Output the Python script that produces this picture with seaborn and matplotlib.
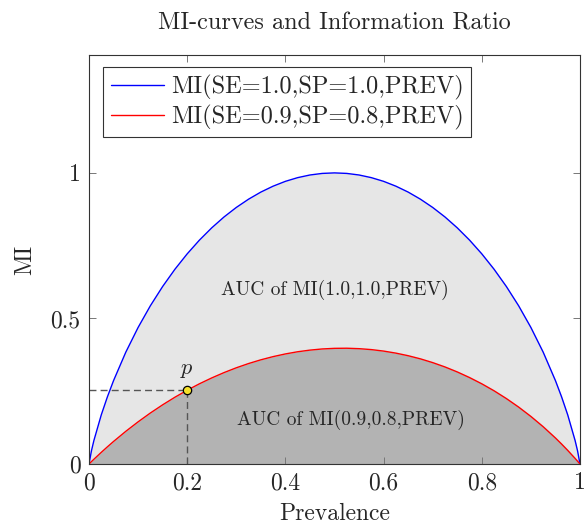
import numpy as np
import pandas as pd
import matplotlib.pyplot as plt
import seaborn as sns

# values
prevalence = [0, 0.005, 0.01, 0.025, 0.0375, 0.05, 0.075,
              0.1, 0.125, 0.15, 0.175, 0.2, 0.225, 0.25, 0.275, 0.3, 0.325, 0.35, 0.375,
              0.4, 0.425, 0.45, 0.475, 0.5, 0.525, 0.55, 0.575, 0.6, 0.625, 0.65, 0.675,
              0.7, 0.725, 0.75, 0.775, 0.8, 0.825, 0.85, 0.875, 0.9,
              0.925, 0.95, 0.9625, 0.975, 0.99, 0.995, 1]
mi_perfect = [0, 0.0454, 0.0808, 0.1687, 0.2307, 0.2864, 0.3843,
              0.4690, 0.5436, 0.6098, 0.6690, 0.7219, 0.7692, 0.8113, 0.8486, 0.8813, 0.9097, 0.9341, 0.9544,
              0.9710, 0.9837, 0.9928, 0.9982, 1.0, 0.9982, 0.9928, 0.9837, 0.9710, 0.9544, 0.9341, 0.9097,
              0.8813, 0.8486, 0.8113, 0.7692, 0.7219, 0.6690, 0.6098, 0.5436, 0.4690,
              0.3843, 0.2864, 0.2307, 0.1687, 0.0808, 0.0454, 0]
mi_test = [0, 0.0082, 0.0163, 0.0400, 0.0590, 0.0774, 0.1123,
           0.1448, 0.1752, 0.2033, 0.2294, 0.2535, 0.2756, 0.2957, 0.3140, 0.3305, 0.3451, 0.3579, 0.3689,
           0.3781, 0.3856, 0.3912, 0.3952, 0.3973, 0.3977, 0.3962, 0.3930, 0.3879, 0.3809, 0.3720, 0.3612,
           0.3483, 0.3334, 0.3163, 0.2970, 0.2755, 0.2515, 0.2249, 0.1956, 0.1634,
           0.1281, 0.0894, 0.0686, 0.0468, 0.0193, 0.0097, 0]
point_x, point_y = 0.2, 0.2535

df = pd.DataFrame({"Prevalence": prevalence, "perfect": mi_perfect, "test": mi_test})

sns.set_style("ticks")
plt.rcParams['font.family'] = ['cmr10', 'DejaVu Serif']
plt.rcParams['mathtext.fontset'] = 'cm'
plt.rcParams['axes.formatter.use_mathtext'] = True

fig, ax = plt.subplots(figsize=(5.84, 5.25), dpi=100)
fig.subplots_adjust(left=89/584, right=580/584, top=1-55/525, bottom=1-464/525)

ax.fill_between(df["Prevalence"], 0, df["perfect"], color="#e6e6e6", lw=0, zorder=0)
ax.fill_between(df["Prevalence"], 0, df["test"], color="#b3b3b3", lw=0, zorder=0)

sns.lineplot(data=df, x="Prevalence", y="perfect", color="blue", lw=1,
             label="MI(SE=1.0,SP=1.0,PREV)", ax=ax)
sns.lineplot(data=df, x="Prevalence", y="test", color="red", lw=1,
             label="MI(SE=0.9,SP=0.8,PREV)", ax=ax)

ax.plot([0, point_x], [point_y, point_y], ls=(0, (5, 3)), color="#555555", lw=1)
ax.plot([point_x, point_x], [0, point_y], ls=(0, (5, 3)), color="#555555", lw=1)
ax.scatter([point_x], [point_y], s=36, color="#f5e02a", edgecolor="black", lw=0.9, zorder=5)
ax.text(point_x, 0.29, r"$p$", ha="center", va="bottom", fontsize=16)

ax.text(0.5, 0.598, "AUC of MI(1.0,1.0,PREV)", ha="center", va="center", fontsize=14)
ax.text(0.533, 0.151, "AUC of MI(0.9,0.8,PREV)", ha="center", va="center", fontsize=14)

ax.set_xlim(0, 1)
ax.set_ylim(0, 1.405)
ax.set_xticks([0, 0.2, 0.4, 0.6, 0.8, 1])
ax.set_xticklabels(["0", "0.2", "0.4", "0.6", "0.8", "1"])
ax.set_yticks([0, 0.5, 1])
ax.set_yticklabels(["0", "0.5", "1"])
ax.tick_params(direction="in", top=True, right=True, labelsize=17, length=5, width=0.7,
               color="#777777", pad=6)
for s in ax.spines.values():
    s.set_linewidth(0.8)
    s.set_color("#333333")

ax.set_xlabel("Prevalence", fontsize=17, labelpad=6)
ax.set_ylabel("MI", fontsize=17, labelpad=10)
ax.set_title("MI-curves and Information Ratio", fontsize=17.5, pad=18)

leg = ax.legend(loc="upper left", fontsize=17.5, frameon=True, fancybox=False, edgecolor="black",
                borderpad=0.3, handlelength=2.2, handletextpad=0.3, labelspacing=0.2,
                borderaxespad=0, bbox_to_anchor=(0.029, 0.97))
leg.get_frame().set_linewidth(0.8)

plt.savefig("out.png", dpi=100)
